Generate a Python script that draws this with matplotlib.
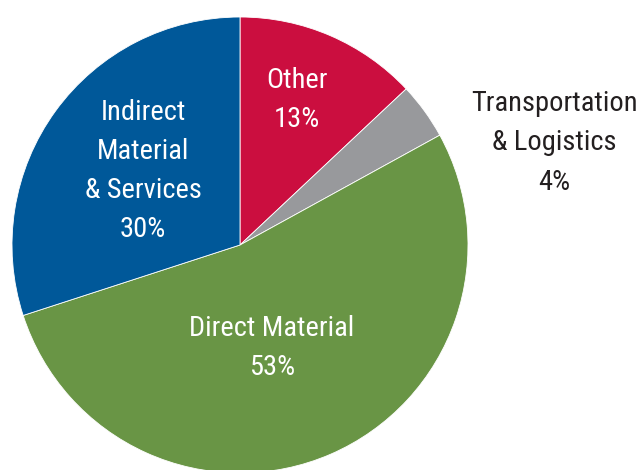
import matplotlib
matplotlib.use("Agg")
import matplotlib.pyplot as plt
from matplotlib import font_manager

# share of spend by category
labels = ['Other', 'Transportation\n& Logistics', 'Direct Material', 'Indirect\nMaterial\n& Services']
shares = [13, 4, 53, 30]
colors = ['#CB0E3F', '#98999C', '#699545', '#005899']

names = set(f.name for f in font_manager.fontManager.ttflist)
fam = [f for f in ['Liberation Sans Narrow', 'Roboto Condensed', 'Open Sans Condensed', 'Liberation Sans'] if f in names]
plt.rcParams['font.family'] = fam + ['DejaVu Sans']

fig = plt.figure(figsize=(6.42, 4.70), dpi=100)
ax = fig.add_axes([0, 0, 1, 1])
ax.axis('off')

wedges, _ = ax.pie(shares, colors=colors, startangle=90, counterclock=False,
                   center=(240, 225), radius=228,
                   wedgeprops=dict(linewidth=0.6, edgecolor='white'))
ax.set_aspect('equal')
ax.set_xlim(0, 642)
ax.set_ylim(0, 470)

# label positions (pixels from the top-left corner)
pos = [(297, 100), (554, 143), (272, 348), (143, 171)]
txtcol = ['white', '#231F20', 'white', 'white']
for lab, s, (x, y), c in zip(labels, shares, pos, txtcol):
    ax.text(x, 470 - y, '%s\n%d%%' % (lab, s), ha='center', va='center',
            color=c, fontsize=20.5, linespacing=1.58)

fig.savefig('out.png', dpi=100)
